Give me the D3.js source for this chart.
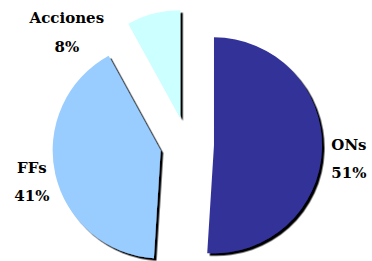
<!DOCTYPE html>
<html>
<head>
<meta charset="utf-8">
<script src="https://cdn.jsdelivr.net/npm/d3@7"></script>
<style>
  html, body { margin: 0; padding: 0; background: #fff; }
  svg { display: block; }
  text { font-family: "DejaVu Serif", "Liberation Serif", serif; font-weight: bold; font-size: 15px; fill: #000; }
</style>
</head>
<body>
<svg id="chart" width="372" height="261"></svg>
<script>
// Data
const categories = ["ONs", "FFs", "Acciones"];
const values = [51, 41, 8];
const percentLabels = ["51%", "41%", "8%"];
const colors = ["#333399", "#99CCFF", "#CCFFFF"];

const W = 372, H = 261;
const cx = 187, cy = 144.5;
const R = 108;
const explode = 0.25 * R;

const svg = d3.select("#chart");
const defs = svg.append("defs");
const f = defs.append("filter").attr("id", "shadow")
  .attr("x", "-10%").attr("y", "-10%").attr("width", "130%").attr("height", "130%");
f.append("feDropShadow").attr("dx", 2.5).attr("dy", 2.5)
  .attr("stdDeviation", 0.6).attr("flood-color", "#000").attr("flood-opacity", 1);

const data = categories.map((c, i) => ({ name: c, value: values[i], pct: percentLabels[i], color: colors[i] }));

const pie = d3.pie().sort(null).value(d => d.value).startAngle(0).endAngle(2 * Math.PI);
const arc = d3.arc().innerRadius(0).outerRadius(R);
const arcs = pie(data);

const g = svg.append("g").attr("transform", `translate(${cx},${cy})`);

g.selectAll("path.slice").data(arcs).enter().append("path")
  .attr("class", "slice")
  .attr("d", arc)
  .attr("fill", d => d.data.color)
  .attr("filter", "url(#shadow)")
  .attr("transform", d => {
    const a = (d.startAngle + d.endAngle) / 2;
    return `translate(${explode * Math.sin(a)},${-explode * Math.cos(a)})`;
  });

// Label placement (name baseline point), polar from pie centre
function labelPoint(d) {
  let a = (d.startAngle + d.endAngle) / 2;
  let r = 1.5 * R;
  if (d.data.name === "Acciones") { a = a - 0.53; r = 1.58 * R; }
  if (d.data.name === "FFs") { a = a + 0.04; r = 1.46 * R; }
  return [r * Math.sin(a), -r * Math.cos(a)];
}

const lab = g.selectAll("g.lab").data(arcs).enter().append("g")
  .attr("class", "lab")
  .attr("transform", d => { const p = labelPoint(d); return `translate(${p[0]},${p[1]})`; });
lab.append("text").attr("text-anchor", "middle").attr("y", 0).text(d => d.data.name);
lab.append("text").attr("text-anchor", "middle").attr("y", 28.5).text(d => d.data.pct);
</script>
</body>
</html>
